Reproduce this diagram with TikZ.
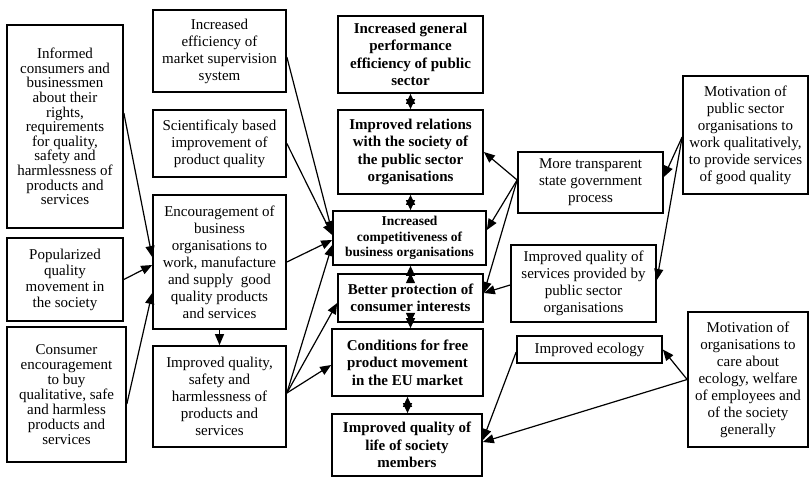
\documentclass[tikz,border=0pt]{standalone}
\usepackage{fontspec}
\setmainfont{Liberation Serif}
\usetikzlibrary{arrows.meta}

\tikzset{sz/.style 2 args={minimum width=#1pt,minimum height=#2pt}}

\begin{document}
\begin{tikzpicture}[x=1pt,y=-1pt,
    box/.style={draw,line width=1.7pt,align=center,inner sep=2pt,font=\fontsize{15}{17}\selectfont},
    bbox/.style={box,font=\fontsize{15}{17.3}\selectfont\bfseries},
    arr/.style={-{Triangle[length=11pt,width=9pt]},line width=1.2pt},
    both/.style={{Triangle[length=10pt,width=9pt]}-{Triangle[length=10pt,width=9pt]},line width=1.2pt}]
    \useasboundingbox (0,0) rectangle (810,477);

    % left column
    \node[box,sz={116}{203},font=\fontsize{15}{14.6}\selectfont] (L1) at (65,126.5)
        {Informed\\consumers and\\businessmen\\about their\\rights,\\requirements\\for quality,\\safety and\\harmlessness of\\products and\\services};
    \node[box,sz={116}{83},font=\fontsize{15}{16}\selectfont] (L2) at (65,279.5)
        {Popularized\\quality\\movement in\\the society};
    \node[box,sz={119}{135},font=\fontsize{15}{15}\selectfont] (L3) at (66.5,394.5)
        {Consumer\\encouragement\\to buy\\qualitative, safe\\and harmless\\products and\\services};

    % second column
    \node[box,sz={133}{82}] (M1) at (219.5,51) {Increased\\efficiency of\\market supervision\\system};
    \node[box,sz={133}{67}] (M2) at (219.5,143.5) {Scientificaly based\\improvement of\\product quality};
    \node[box,sz={133}{134}] (M3) at (219.5,262)
        {Encouragement of\\business\\organisations to\\work, manufacture\\and supply\ \ good\\quality products\\and services};
    \node[box,sz={133}{101}] (M4) at (219.5,396.5)
        {Improved quality,\\safety and\\harmlessness of\\products and\\services};

    % centre column
    \node[bbox,sz={145}{77}] (C1) at (410.5,54.5) {Increased general\\performance\\efficiency of public\\sector};
    \node[bbox,sz={145}{84}] (C2) at (410.5,152) {Improved relations\\with the society of\\the public sector\\organisations};
    \node[bbox,sz={153}{54},font=\fontsize{13.5}{15.5}\selectfont\bfseries] (C3) at (409.5,238)
        {Increased\\competitiveness of\\business organisations};
    \node[bbox,sz={145}{48}] (C4) at (410.5,298) {Better protection of\\consumer interests};
    \node[bbox,sz={151}{67}] (C5) at (407.5,362.5) {Conditions for free\\product movement\\in the EU market};
    \node[bbox,sz={150}{62}] (C6) at (407,445) {Improved quality of\\life of society\\members};

    % right side
    \node[box,sz={145}{61}] (R1) at (590.5,182.5) {More transparent\\state government\\process};
    \node[box,sz={125}{118}] (R2) at (745.5,135)
        {Motivation of\\public sector\\organisations to\\work qualitatively,\\to provide services\\of good quality};
    \node[box,sz={145}{77}] (R3) at (583.5,283.5) {Improved quality of\\services provided by\\public sector\\organisations};
    \node[box,sz={145}{27}] (R4) at (589.5,349.5) {Improved ecology};
    \node[box,sz={120}{135}] (R5) at (748,379.5)
        {Motivation of\\organisations to\\care about\\ecology, welfare\\of employees and\\of the society\\generally};

    \path[arr] ([yshift=13.5pt]L1.east) edge ([yshift=5pt]M3.west)
               (L2.east) edge ([yshift=-3pt]M3.west)
               ([yshift=-9.5pt]L3.east) edge ([yshift=-31pt]M3.west)
               (M3.south) edge (M4.north)
               ([yshift=-6pt]M1.east) edge ([yshift=6pt]C3.west)
               (M2.east) edge ([yshift=3pt]C3.west)
               (M3.east) edge ([yshift=-2pt]C3.west)
               ([yshift=3.5pt]M4.east) edge ([yshift=-7pt]C3.west)
                                       edge ([yshift=-5pt]C4.west)
                                       edge ([yshift=-2.5pt]C5.west);

    \path[arr] ([yshift=2.5pt]R1.west) edge (C2.east)
                                       edge ([yshift=8pt]C3.east)
                                       edge ([yshift=5pt]C4.east)
               ([yshift=-1.5pt]R3.west) edge ([yshift=5pt]C4.east)
               ([yshift=-2pt]R2.west) edge ([yshift=5.5pt]R1.east)
                                      edge ([yshift=3.5pt]R3.east)
               (R5.west) edge (R4.east)
                         edge ([yshift=3pt]C6.east)
               ([yshift=-2.5pt]R4.west) edge ([yshift=5pt]C6.east);

    \path[both] (C1.south) edge (C1.south |- C2.north)
                (C2.south) edge (C2.south |- C3.north)
                (C4.north) edge (C4.north |- C3.south)
                (C4.south) edge (C4.south |- C5.north)
                (C5.south) edge (C5.south |- C6.north);
\end{tikzpicture}
\end{document}
